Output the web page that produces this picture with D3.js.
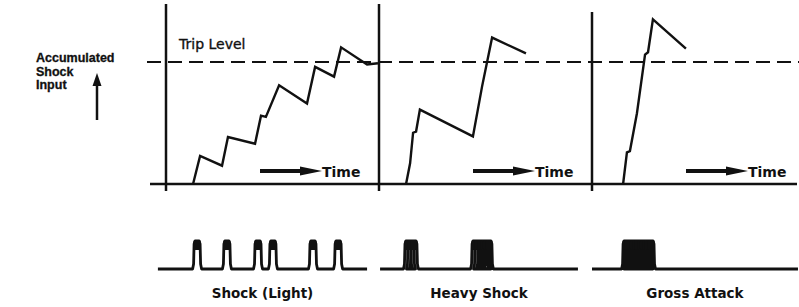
<!DOCTYPE html>
<html>
<head>
<meta charset="utf-8">
<script src="https://cdn.jsdelivr.net/npm/d3@7"></script>
<style>
  html, body { margin: 0; padding: 0; background: #fff; }
  svg { display: block; }
</style>
</head>
<body>
<div id="chart"></div>
<script>
// Panel titles (bottom captions)
const panelNames = ['Shock (Light)', 'Heavy Shock', 'Gross Attack'];

// Accumulated shock input curves: [time (0-100 per panel), level (trip = 1)]
const lightCurve = [[12.7, 0], [16.0, 0.23], [26.3, 0.15], [29.1, 0.385], [41.8, 0.33], [44.6, 0.56],
  [46.9, 0.55], [53.1, 0.81], [66.2, 0.66], [70.0, 0.96], [78.9, 0.88], [82.2, 1.12], [94.4, 0.98], [99.5, 0.99]];
const heavyCurve = [[12.7, 0], [14.6, 0.17], [16.0, 0.42], [17.4, 0.43], [19.2, 0.61], [44.1, 0.39],
  [48.4, 0.80], [53.1, 1.20], [69.0, 1.07]];
const grossCurve = [[14.6, 0], [16.4, 0.26], [17.8, 0.27], [21.1, 0.58], [24.9, 1.06], [26.3, 1.08],
  [28.6, 1.35], [44.1, 1.11]];
const tripLevel = 1;

// Shock pulse times (same time axis as the curve above each trace)
const lightPulses = [14.6, 28.6, 43.2, 50.2, 69.0, 80.8];
const heavyPulses = [13.6, 15.0, 16.4, 45.1, 46.5, 47.9, 49.3, 50.5, 51.6];
const grossPulses = [16.0, 17.1, 18.3, 19.5, 20.7, 21.8, 23.0, 24.2, 25.4, 26.5, 27.7];
// Start / end of each pulse trace baseline
const traceExtent = [[-3.8, 94.4], [0.5, 93.4], [0, 96.7]];

const curves = [lightCurve, heavyCurve, grossCurve];
const pulses = [lightPulses, heavyPulses, grossPulses];

const width = 799, height = 307;
const ink = '#111';

const svg = d3.select('#chart').append('svg')
  .attr('width', width)
  .attr('height', height)
  .attr('viewBox', `0 0 ${width} ${height}`);

// Panel origin scale and level scales
const panelX = d3.scaleLinear().domain([0, 3]).range([166, 805]);
const yLevel = d3.scaleLinear().domain([0, 1]).range([184, 62]);
const yPulse = d3.scaleLinear().domain([0, 1]).range([269, 241]);

// Y label
const yLab = svg.append('text')
  .attr('font-family', '"Liberation Sans", Arial, sans-serif')
  .attr('font-weight', 'bold')
  .attr('font-size', '12.5px')
  .attr('fill', ink)
  .attr('stroke', ink).attr('stroke-width', 0.3);
['Accumulated', 'Shock', 'Input'].forEach((s, i) => {
  yLab.append('tspan').attr('x', 36).attr('y', 62 + i * 13.5).text(s);
});

// Y arrow
svg.append('line')
  .attr('x1', 97).attr('x2', 97).attr('y1', 120).attr('y2', 82)
  .attr('stroke', ink).attr('stroke-width', 2.5);
svg.append('path')
  .attr('d', 'M97,73 L101.5,86 L92.5,86 Z')
  .attr('fill', ink);

// Baseline
svg.append('line')
  .attr('x1', 150).attr('x2', 797)
  .attr('y1', yLevel(0)).attr('y2', yLevel(0))
  .attr('stroke', ink).attr('stroke-width', 2.5);

// Trip level dashed line
svg.append('line')
  .attr('x1', 147).attr('x2', 799)
  .attr('y1', yLevel(tripLevel)).attr('y2', yLevel(tripLevel))
  .attr('stroke', ink).attr('stroke-width', 2.2)
  .attr('stroke-dasharray', '14,7');

svg.append('text')
  .attr('x', 179).attr('y', 48.5)
  .attr('font-family', '"DejaVu Sans", sans-serif')
  .attr('font-size', '14px')
  .attr('fill', ink)
  .attr('stroke', ink).attr('stroke-width', 0.35)
  .text('Trip Level');

const line = d3.line();

panelNames.forEach((name, i) => {
  const x0 = panelX(i);
  const t = d3.scaleLinear().domain([0, 100]).range([x0, panelX(i + 1)]);
  const g = svg.append('g');

  // vertical axis
  g.append('line')
    .attr('x1', x0).attr('x2', x0)
    .attr('y1', i === 2 ? 12 : 4).attr('y2', 191)
    .attr('stroke', ink).attr('stroke-width', 2.5);

  // accumulated curve
  g.append('path')
    .attr('d', line(curves[i].map(d => [t(d[0]), yLevel(d[1])])))
    .attr('fill', 'none')
    .attr('stroke', ink)
    .attr('stroke-width', 2.4)
    .attr('stroke-linejoin', 'miter');

  // "Time" arrow
  const ay = 171;
  g.append('line')
    .attr('x1', x0 + 94).attr('x2', x0 + 138)
    .attr('y1', ay).attr('y2', ay)
    .attr('stroke', ink).attr('stroke-width', 4);
  g.append('path')
    .attr('d', `M${x0 + 156},${ay} L${x0 + 134},${ay - 4.5} L${x0 + 134},${ay + 4.5} Z`)
    .attr('fill', ink);
  g.append('text')
    .attr('x', x0 + 156).attr('y', 177)
    .attr('font-family', '"DejaVu Sans", sans-serif')
    .attr('font-weight', 'bold')
    .attr('font-size', '14px')
    .attr('fill', ink)
    .text('Time');

  // pulse trace
  const [ts, te] = traceExtent[i];
  const base = yPulse(0), top = yPulse(1);
  const pts = [[t(ts), base]];
  pulses[i].forEach(p => {
    const cx = t(p);
    pts.push([cx - 4.5, base], [cx - 3.5, base - 5], [cx - 3, top + 3], [cx - 2, top],
      [cx + 2, top], [cx + 3, top + 3], [cx + 3.5, base - 5], [cx + 4.5, base]);
  });
  pts.push([t(te), base]);
  g.append('path')
    .attr('d', line(pts))
    .attr('fill', 'none')
    .attr('stroke', ink)
    .attr('stroke-width', 2.8)
    .attr('stroke-linejoin', 'round');
  // dark pulse tops
  g.selectAll('rect.cap')
    .data(pulses[i])
    .join('rect')
    .attr('class', 'cap')
    .attr('x', d => t(d) - 3.8)
    .attr('y', top - 1)
    .attr('width', 7.6)
    .attr('height', 10)
    .attr('rx', 2)
    .attr('fill', ink);

  // caption
  g.append('text')
    .attr('x', (t(ts) + t(te)) / 2)
    .attr('y', 298)
    .attr('text-anchor', 'middle')
    .attr('font-family', '"DejaVu Sans", sans-serif')
    .attr('font-weight', 'bold')
    .attr('font-size', '13.5px')
    .attr('fill', ink)
    .text(name);
});
</script>
</body>
</html>
